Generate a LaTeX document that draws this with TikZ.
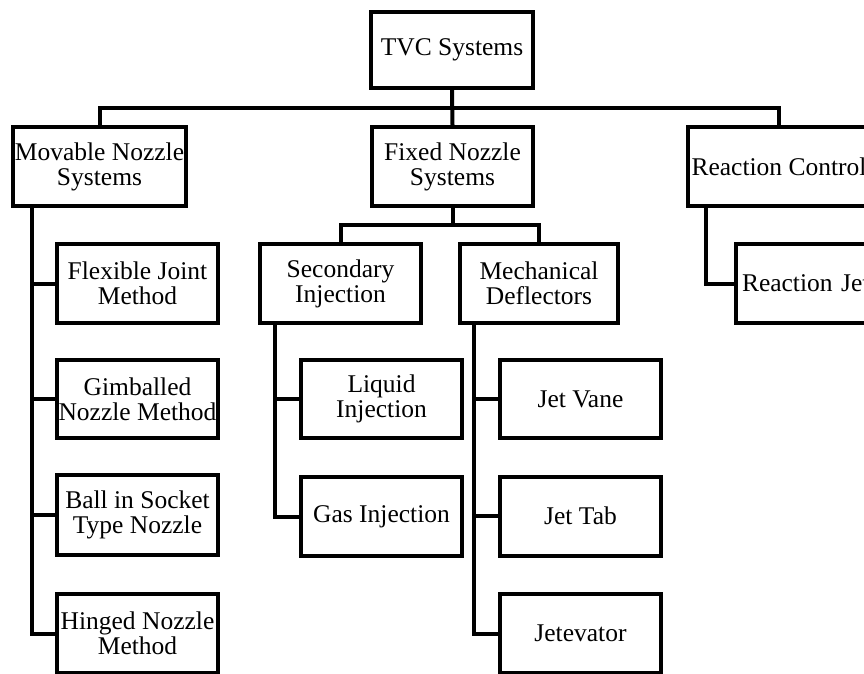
\documentclass[tikz,border=0pt]{standalone}
\usepackage{fontspec}
\setmainfont{Liberation Serif}
\begin{document}
\begin{tikzpicture}[x=1pt,y=-1pt,
  box/.style={draw, line width=4pt, inner sep=0pt, minimum width=161pt, minimum height=79pt,
    align=center, font=\fontsize{25.5}{25}\selectfont},
  conn/.style={line width=4pt}]
\useasboundingbox (0,0) rectangle (864,673);
\clip (0,0) rectangle (864,673);
% level 0
\node[box, minimum width=162pt, minimum height=76pt] (tvc) at (452,50) {TVC Systems};
% level 1
\node[box, minimum width=173pt] (mov) at (99.5,166.5) {Movable Nozzle\\Systems};
\node[box] (fix) at (452.5,166.5) {Fixed Nozzle\\Systems};
\node[box, minimum width=182pt] (rc) at (779,166.5) {Reaction Control};
% movable children
\node[box] (flex) at (137.5,283.5) {Flexible Joint\\Method};
\node[box, minimum height=78pt] (gimb) at (137.5,399) {Gimballed\\Nozzle Method};
\node[box, minimum height=80pt] (ball) at (137.5,515) {Ball in Socket\\Type Nozzle};
\node[box] (hing) at (137.5,633.5) {Hinged Nozzle\\Method};
% fixed children
\node[box] (sec) at (340.5,283.5) {Secondary\\Injection};
\node[box, minimum width=158pt] (mech) at (539,283.5) {Mechanical\\Deflectors};
\node[box, minimum height=78pt] (liq) at (381.5,399) {Liquid\\Injection};
\node[box] (gas) at (381.5,516.5) {Gas Injection};
\node[box, minimum height=78pt] (vane) at (580.5,399) {Jet Vane};
\node[box] (tab) at (580.5,516) {Jet Tab};
\node[box] (jetev) at (580.5,633.5) {Jetevator};
% reaction children
\node[box, anchor=west, text width=149pt, inner xsep=5pt, align=left] (rj) at (734,283.5) {Reaction Jet};
% bus coordinates
\coordinate (bus1) at (0,108);
\coordinate (bus2) at (0,225);
\coordinate (movx) at (32,0);
\coordinate (secx) at (275,0);
\coordinate (mechx) at (474,0);
\coordinate (rcx) at (706,0);
% connectors
\draw[conn] (tvc.south) -- (fix.north);
\draw[conn] (mov.north) -- (mov.north |- bus1) -- (rc.north |- bus1) -- (rc.north);
\draw[conn] (fix.south) -- (fix.south |- bus2);
\draw[conn] (sec.north) -- (sec.north |- bus2) -- (mech.north |- bus2) -- (mech.north);
\draw[conn] (mov.south -| movx) |- (hing.west);
\draw[conn] (mov.south -| movx) |- (flex.west);
\draw[conn] (mov.south -| movx) |- (gimb.west);
\draw[conn] (mov.south -| movx) |- (ball.west);
\draw[conn] (sec.south -| secx) |- (gas.west);
\draw[conn] (sec.south -| secx) |- (liq.west);
\draw[conn] (mech.south -| mechx) |- (jetev.west);
\draw[conn] (mech.south -| mechx) |- (vane.west);
\draw[conn] (mech.south -| mechx) |- (tab.west);
\draw[conn] (rc.south -| rcx) |- (rj.west);
\end{tikzpicture}
\end{document}
